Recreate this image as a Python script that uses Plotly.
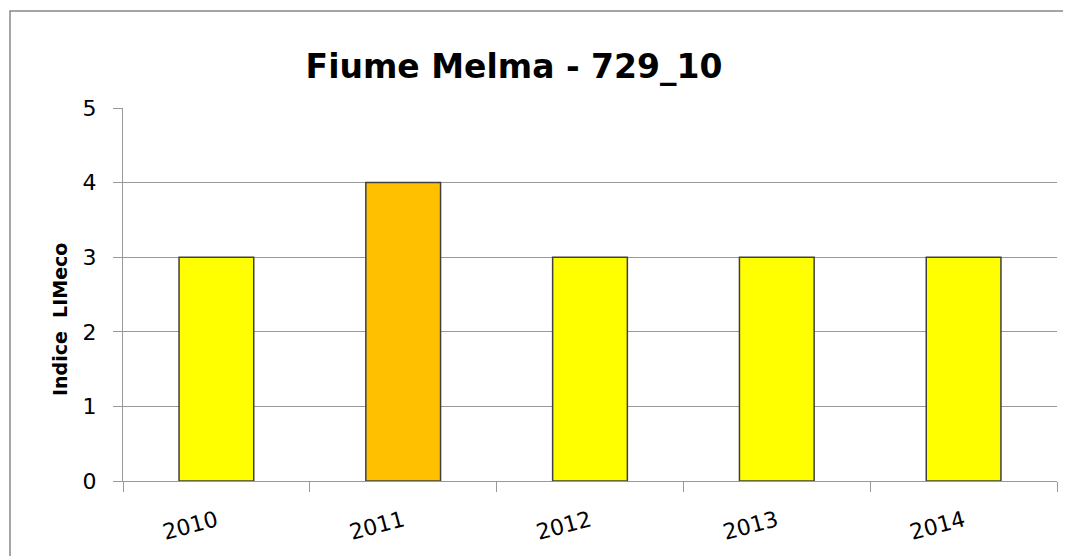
import plotly.graph_objects as go

years = ["2010", "2011", "2012", "2013", "2014"]
values = [3, 4, 3, 3, 3]
colors = ["#FFFF00", "#FFC000", "#FFFF00", "#FFFF00", "#FFFF00"]
yticks = [0, 1, 2, 3, 4, 5]

# page body has an 8px margin; compensate so the plot lands where the reference has it
OFF = 8
W, H = 1071 - OFF, 556 - OFF
L, R, T, B = 123 - OFF, 14, 108 - OFF, 75
pw, ph = W - L - R, H - T - B

def px_to_paper_x(px):
    return (px - OFF - L) / pw

def px_to_paper_y(py):
    return (H - B - (py - OFF)) / ph

font = "DejaVu Sans"
xpos = list(range(len(years)))

fig = go.Figure()
fig.add_trace(go.Bar(
    x=xpos, y=values, width=0.4,
    marker=dict(color=colors, line=dict(color="#404040", width=1.5)),
    showlegend=False, hoverinfo="skip",
))
# invisible trace to activate xaxis2 for the labels
fig.add_trace(go.Scatter(x=xpos, y=values, xaxis="x2", mode="markers",
                         marker=dict(opacity=0), showlegend=False, hoverinfo="skip"))

fig.update_layout(
    width=W, height=H,
    margin=dict(l=L, r=R, t=T, b=B, pad=0),
    paper_bgcolor="white", plot_bgcolor="white",
    title=dict(text="<b>Fiume Melma - 729_10</b>", x=(514 - OFF) / W,
               xanchor="center", y=(H - (66 - OFF)) / H, yanchor="middle",
               font=dict(family=font, size=33, color="black")),
    xaxis=dict(range=[-0.5, len(years) - 0.5],
               tickvals=[i - 0.5 for i in range(len(years) + 1)],
               ticktext=[""] * (len(years) + 1),
               ticks="outside", ticklen=10, tickcolor="#999999", tickwidth=1.3,
               showgrid=False, zeroline=False,
               showline=True, linecolor="#999999", linewidth=1.3),
    xaxis2=dict(overlaying="x", side="bottom", range=[-0.5, len(years) - 0.5],
                tickvals=xpos, ticktext=years, tickangle=-15,
                ticks="", showgrid=False, zeroline=False, showline=False,
                tickfont=dict(family=font, size=22, color="black"),
                ticklabelstandoff=22),
    yaxis=dict(range=[0, 5], tickvals=yticks, ticks="outside", ticklen=9,
               tickcolor="#999999", tickwidth=1.3,
               showgrid=True, gridcolor="#999999", gridwidth=1.3,
               zeroline=False, showline=True, linecolor="#999999", linewidth=1.3,
               tickfont=dict(family=font, size=22, color="black"),
               ticklabelstandoff=12),
    annotations=[dict(text="<b>Indice  LIMeco</b>", textangle=-90,
                      xref="paper", yref="paper",
                      x=px_to_paper_x(60), y=px_to_paper_y(320),
                      xanchor="center", yanchor="middle", showarrow=False,
                      font=dict(family=font, size=19, color="black"))],
    shapes=[dict(type="rect", xref="paper", yref="paper",
                 x0=px_to_paper_x(10), x1=px_to_paper_x(1080),
                 y0=px_to_paper_y(570), y1=px_to_paper_y(11),
                 line=dict(color="#888888", width=1.5), fillcolor="rgba(0,0,0,0)",
                 layer="below")],
)

fig.write_html("out.html")
